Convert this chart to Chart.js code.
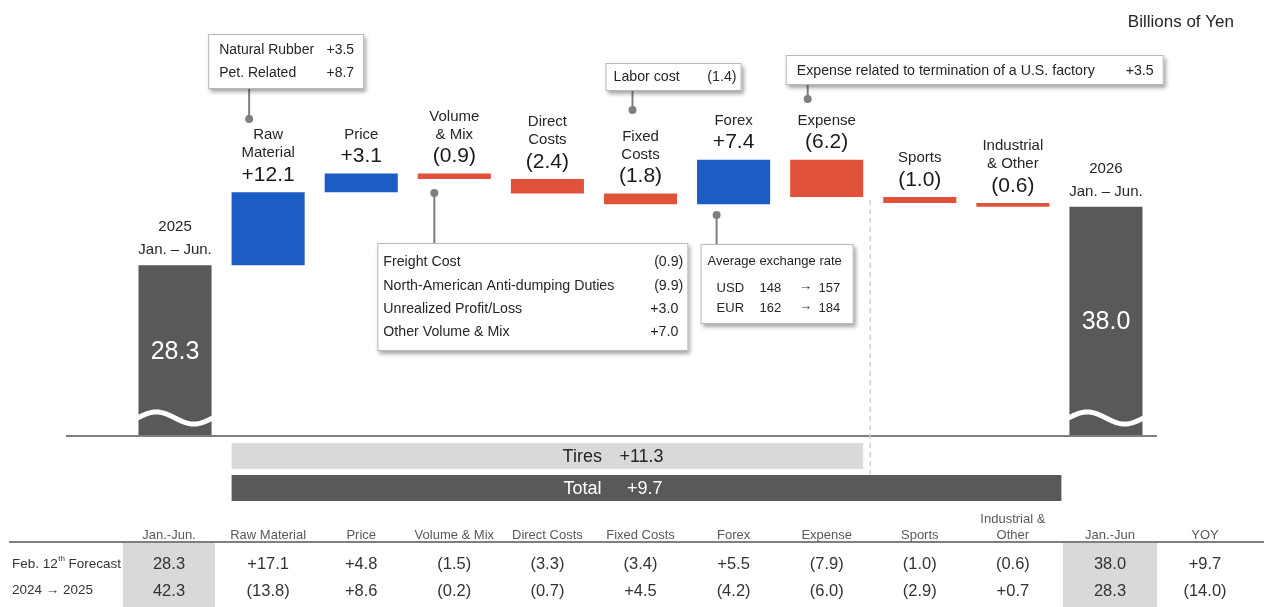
<!DOCTYPE html>
<html>
<head>
<meta charset="utf-8">
<title>Operating Profit Waterfall</title>
<script src="https://cdn.jsdelivr.net/npm/chart.js@4.4.1/dist/chart.umd.min.js"></script>
<style>
  html, body { margin: 0; padding: 0; background: #ffffff; }
  #wrap { position: relative; width: 1264px; height: 607px; }
  canvas { display: block; }
</style>
</head>
<body>
<div id="wrap"><canvas id="chart" width="1264" height="607"></canvas></div>
<script>
// ---- data ----
const categories = ['2025 Jan. – Jun.', 'Raw Material', 'Price', 'Volume & Mix', 'Direct Costs', 'Fixed Costs', 'Forex', 'Expense', 'Sports', 'Industrial & Other', '2026 Jan. – Jun.'];
const categoryLines = [['2025', 'Jan. – Jun.'], ['Raw', 'Material'], ['Price'], ['Volume', '& Mix'], ['Direct', 'Costs'], ['Fixed', 'Costs'], ['Forex'], ['Expense'], ['Sports'], ['Industrial', '& Other'], ['2026', 'Jan. – Jun.']];
const startTotal = 28.3;
const changes = [12.1, 3.1, -0.9, -2.4, -1.8, 7.4, -6.2, -1.0, -0.6];
const endTotal = 38.0;
const tiresChange = 11.3;
const totalChange = 9.7;

// breakdown notes
const rawMaterialNotes = [['Natural Rubber', 3.5], ['Pet. Related', 8.7]];
const fixedCostNotes = [['Labor cost', -1.4]];
const volumeMixNotes = [['Freight Cost', -0.9], ['North-American Anti-dumping Duties', -9.9], ['Unrealized Profit/Loss', 3.0], ['Other Volume & Mix', 7.0]];
const expenseNotes = [['Expense related to termination of a U.S. factory', 3.5]];
const fxTitle = 'Average exchange rate';
const fxRates = [['USD', 148, 157], ['EUR', 162, 184]];

// comparison table
const tableHeaders = [['Jan.-Jun.'], ['Raw Material'], ['Price'], ['Volume & Mix'], ['Direct Costs'], ['Fixed Costs'], ['Forex'], ['Expense'], ['Sports'], ['Industrial &', 'Other'], ['Jan.-Jun'], ['YOY']];
const forecastRow = [28.3, 17.1, 4.8, -1.5, -3.3, -3.4, 5.5, -7.9, -1.0, -0.6, 38.0, 9.7];
const priorYearRow = [42.3, -13.8, 8.6, -0.2, -0.7, 4.5, -4.2, -6.0, -2.9, 0.7, 28.3, -14.0];
const unitLabel = 'Billions of Yen';

// ---- helpers ----
const FONT = "'Liberation Sans', Arial, Helvetica, sans-serif";
const BLUE = '#1c5cc5';
const RED = '#e0533a';
const DARK = '#595959';
const LIGHT = '#d9d9d9';
const INK = '#262626';
const LINE = '#7f7f7f';

const round1 = v => Math.round(v * 10) / 10;
const fmtChange = v => v >= 0 ? '+' + v.toFixed(1) : '(' + Math.abs(v).toFixed(1) + ')';

// floating bar ranges built from the running total
const ranges = [];
const colors = [];
let running = startTotal;
ranges.push([0, startTotal]);
colors.push(DARK);
changes.forEach(c => {
  const next = round1(running + c);
  ranges.push([running, next]);
  colors.push(c >= 0 ? BLUE : RED);
  running = next;
});
ranges.push([0, endTotal]);
colors.push(DARK);

function text(ctx, s, x, y, size, color, align = 'center', baseline = 'middle') {
  ctx.font = size + 'px ' + FONT;
  ctx.fillStyle = color;
  ctx.textAlign = align;
  ctx.textBaseline = baseline;
  ctx.fillText(s, x, y);
}

function shadowBox(ctx, x, y, w, h) {
  ctx.save();
  ctx.shadowColor = 'rgba(0,0,0,0.35)';
  ctx.shadowBlur = 4;
  ctx.shadowOffsetX = 2;
  ctx.shadowOffsetY = 3;
  ctx.fillStyle = '#ffffff';
  ctx.fillRect(x, y, w, h);
  ctx.restore();
  ctx.strokeStyle = '#b8b8b8';
  ctx.lineWidth = 1;
  ctx.strokeRect(x + 0.5, y + 0.5, w - 1, h - 1);
}

function stem(ctx, x, y1, y2) {
  ctx.strokeStyle = LINE;
  ctx.lineWidth = 2;
  ctx.beginPath();
  ctx.moveTo(x, y1);
  ctx.lineTo(x, y2);
  ctx.stroke();
}

function dot(ctx, x, y) {
  ctx.fillStyle = LINE;
  ctx.beginPath();
  ctx.arc(x, y, 4, 0, Math.PI * 2);
  ctx.fill();
}

// callout boxes anchored to a category column
const callouts = [
  { cat: 1, notes: rawMaterialNotes, dx: -60, y: 34, w: 156, h: 55, rowY: [50, 73], padL: 11, size: 14, stemDx: -19, dotY: 119 },
  { cat: 5, notes: fixedCostNotes, dx: -35, y: 63, w: 136, h: 28, rowY: [77], padL: 8, size: 14.2, stemDx: -8, dotY: 110 },
  { cat: 3, notes: volumeMixNotes, dx: -77, y: 243, w: 311, h: 108, rowY: [262, 286, 309, 332], padL: 6, size: 14.2, stemDx: -20, dotY: 193 },
  { cat: 7, notes: expenseNotes, dx: -41, y: 55, w: 378, h: 30, rowY: [71], padL: 11, size: 14.2, stemDx: -19, dotY: 99 }
];

const waterfallDecor = {
  id: 'waterfallDecor',
  afterDatasetsDraw(chart) {
    const ctx = chart.ctx;
    const bars = chart.getDatasetMeta(0).data;
    const last = bars.length - 1;

    // wavy break on the total bars
    [0, last].forEach(i => {
      const b = bars[i];
      const l = b.x - b.width / 2, w = b.width;
      ctx.save();
      ctx.strokeStyle = '#ffffff';
      ctx.lineWidth = 5;
      ctx.beginPath();
      for (let t = 0; t <= 1.0001; t += 0.02) {
        const px = l - 1 + t * (w + 2);
        const py = 418 - 6 * Math.sin(2 * Math.PI * t);
        if (t === 0) ctx.moveTo(px, py); else ctx.lineTo(px, py);
      }
      ctx.stroke();
      ctx.restore();
    });

    // labels above bars
    bars.forEach((b, i) => {
      const top = Math.min(b.y, b.base);
      const lines = categoryLines[i];
      if (i === 0 || i === last) {
        let y = top - 15;
        for (let k = lines.length - 1; k >= 0; k--) { text(ctx, lines[k], b.x, y, 15, INK); y -= 23; }
        const v = i === 0 ? startTotal : endTotal;
        text(ctx, v.toFixed(1), b.x, (top + b.base) / 2 + 1, 25, '#ffffff');
      } else {
        const vy = top - 17;
        text(ctx, fmtChange(changes[i - 1]), b.x, vy, 21, '#1a1a1a');
        let y = vy - 22;
        for (let k = lines.length - 1; k >= 0; k--) { text(ctx, lines[k], b.x, y, 15, INK); y -= 18; }
      }
    });

    // zero line
    const yZero = chart.scales.y.getPixelForValue(0);
    ctx.strokeStyle = LINE;
    ctx.lineWidth = 2;
    ctx.beginPath();
    ctx.moveTo(66, yZero);
    ctx.lineTo(bars[last].x + 51, yZero);
    ctx.stroke();

    // divider between tire and non-tire items
    const divX = (bars[7].x + bars[8].x) / 2 - 3;
    ctx.save();
    ctx.strokeStyle = '#cfcfcf';
    ctx.lineWidth = 1.5;
    ctx.setLineDash([5, 4]);
    ctx.beginPath();
    ctx.moveTo(divX, 200);
    ctx.lineTo(divX, 474);
    ctx.stroke();
    ctx.restore();

    // callout stems, then boxes
    callouts.forEach(c => {
      const cx = bars[c.cat].x;
      const sx = cx + c.stemDx;
      if (c.dotY > c.y + c.h) stem(ctx, sx, c.y + c.h, c.dotY); else stem(ctx, sx, c.dotY, c.y);
      dot(ctx, sx, c.dotY);
    });
    const fxBar = bars[6];
    const fxStemX = fxBar.x - 17;
    stem(ctx, fxStemX, 215, 244);
    dot(ctx, fxStemX, 215);

    callouts.forEach(c => {
      const bx = bars[c.cat].x + c.dx;
      shadowBox(ctx, bx, c.y, c.w, c.h);
      c.notes.forEach((n, k) => {
        text(ctx, n[0], bx + c.padL, c.rowY[k], c.size, INK, 'left');
        const pad = n[1] < 0 ? 5 : 10;
        text(ctx, fmtChange(n[1]), bx + c.w - pad, c.rowY[k], c.size, INK, 'right');
      });
    });

    // exchange-rate box
    const fx = fxBar.x - 33;
    shadowBox(ctx, fx, 244, 153, 80);
    text(ctx, fxTitle, fx + 7, 261, 13, INK, 'left');
    fxRates.forEach((r, k) => {
      const y = 288 + k * 20;
      text(ctx, r[0], fx + 16, y, 13, INK, 'left');
      text(ctx, String(r[1]), fx + 59, y, 13, INK, 'left');
      text(ctx, '→', fx + 105, y - 2, 13, INK, 'center');
      text(ctx, String(r[2]), fx + 118, y, 13, INK, 'left');
    });

    // segment summary bars
    const leftX = bars[1].x - bars[1].width / 2;
    const tiresRight = bars[7].x + bars[7].width / 2;
    const totalRight = (bars[9].x + bars[9].width / 2 + bars[10].x - bars[10].width / 2) / 2 + 2;
    ctx.fillStyle = LIGHT;
    ctx.fillRect(leftX, 443, tiresRight - leftX, 26);
    ctx.fillStyle = DARK;
    ctx.fillRect(leftX, 475, totalRight - leftX, 26);
    text(ctx, 'Tires', leftX + 331, 457, 18, INK, 'left');
    text(ctx, fmtChange(tiresChange), leftX + 432, 457, 18, INK, 'right');
    text(ctx, 'Total', leftX + 332, 489, 18, '#ffffff', 'left');
    text(ctx, fmtChange(totalChange), leftX + 431, 489, 18, '#ffffff', 'right');

    // unit
    text(ctx, unitLabel, 1234, 22, 17, INK, 'right');

    // comparison table
    const colX = [169];
    for (let i = 1; i <= 9; i++) colX.push(bars[i].x);
    colX.push(1110, 1205);
    ctx.fillStyle = LIGHT;
    ctx.fillRect(123, 543, 92, 64);
    ctx.fillRect(1063, 543, 94, 64);
    ctx.strokeStyle = LINE;
    ctx.lineWidth = 2;
    ctx.beginPath();
    ctx.moveTo(9, 542);
    ctx.lineTo(1264, 542);
    ctx.stroke();

    tableHeaders.forEach((h, i) => {
      let y = 535;
      for (let k = h.length - 1; k >= 0; k--) { text(ctx, h[k], colX[i], y, 13, '#595959'); y -= 16; }
    });
    const cell = (v, i) => (i === 0 || i === 10) ? v.toFixed(1) : fmtChange(v);
    forecastRow.forEach((v, i) => text(ctx, cell(v, i), colX[i], 564, 16.5, '#333333'));
    priorYearRow.forEach((v, i) => text(ctx, cell(v, i), colX[i], 591, 16.5, '#333333'));

    // row labels
    text(ctx, 'Feb. 12', 12, 564, 13.5, '#333333', 'left');
    ctx.font = '13.5px ' + FONT;
    const w1 = ctx.measureText('Feb. 12').width;
    text(ctx, 'th', 12 + w1 + 0.5, 559, 8, '#333333', 'left');
    ctx.font = '8px ' + FONT;
    const w2 = ctx.measureText('th').width;
    text(ctx, 'Forecast', 12 + w1 + w2 + 4, 564, 13.5, '#333333', 'left');
    text(ctx, '2024 → 2025', 12, 590, 13.5, '#333333', 'left');
  }
};

new Chart(document.getElementById('chart'), {
  type: 'bar',
  data: {
    labels: categories,
    datasets: [{
      data: ranges,
      backgroundColor: colors,
      borderWidth: 0,
      barPercentage: 0.785,
      categoryPercentage: 1.0
    }]
  },
  options: {
    responsive: false,
    animation: false,
    layout: { padding: { left: 128.5, right: 111.5, top: 74, bottom: 171 } },
    scales: {
      x: { display: false },
      y: { display: false, min: 0, max: 60 }
    },
    plugins: {
      legend: { display: false },
      tooltip: { enabled: false }
    }
  },
  plugins: [waterfallDecor]
});
</script>
</body>
</html>
